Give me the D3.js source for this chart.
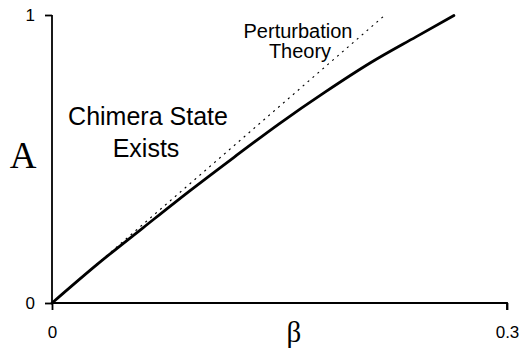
<!DOCTYPE html>
<html>
<head>
<meta charset="utf-8">
<script src="https://cdn.jsdelivr.net/npm/d3@7"></script>
<style>
  body { margin: 0; background: #fff; }
  svg text { font-family: "Liberation Sans", Arial, Helvetica, sans-serif; }
</style>
</head>
<body>
<div id="chart"></div>
<script>
// values
var betaValues = [0, 0.03, 0.06, 0.09, 0.12, 0.15, 0.18, 0.21, 0.24, 0.265];
var amplitudeValues = [0, 0.135, 0.261, 0.386, 0.506, 0.623, 0.732, 0.834, 0.924, 0.998];
// perturbation theory: straight line from the origin
var perturbBeta = [0, 0.2185];
var perturbAmp = [0, 0.995];
var xTicks = [0, 0.3];
var yTicks = [0, 1];

var width = 522, height = 350;
var margin = {top: 15, right: 15, bottom: 47, left: 52};

var svg = d3.select('#chart').append('svg')
  .attr('width', width)
  .attr('height', height);

var x = d3.scaleLinear().domain([0, 0.3]).range([margin.left, width - margin.right]);
var y = d3.scaleLinear().domain([0, 1]).range([height - margin.bottom, margin.top]);

// axes
var xAxis = d3.axisBottom(x).tickValues(xTicks).tickSize(7).tickPadding(16)
  .tickFormat(function(d){ return d === 0 ? '0' : String(d); });
var yAxis = d3.axisLeft(y).tickValues(yTicks).tickSize(7).tickPadding(10)
  .tickFormat(d3.format('d'));

var gx = svg.append('g')
  .attr('transform', 'translate(0,' + y(0) + ')')
  .call(xAxis);
var gy = svg.append('g')
  .attr('transform', 'translate(' + x(0) + ',0)')
  .call(yAxis);

[gx, gy].forEach(function(g){
  g.attr('font-size', null).attr('font-family', null);
  g.selectAll('.domain').attr('stroke', '#000').attr('stroke-width', 1.8);
  g.selectAll('.tick line').attr('stroke', '#000').attr('stroke-width', 1.8);
  g.selectAll('.tick text').attr('fill', '#000').style('font-size', '17px');
});
gx.select('.domain').attr('d', 'M' + x(0) + ',0H' + x(0.3) + 'V7');
gy.select('.domain').attr('d', 'M0,' + y(0) + 'V' + y(1));

// curves
var line = d3.line()
  .x(function(d){ return x(d[0]); })
  .y(function(d){ return y(d[1]); })
  .curve(d3.curveMonotoneX);

svg.append('path')
  .datum(d3.zip(perturbBeta, perturbAmp))
  .attr('fill', 'none')
  .attr('stroke', '#000')
  .attr('stroke-width', 1.2)
  .attr('stroke-dasharray', '2,4.5')
  .attr('d', line);

svg.append('path')
  .datum(d3.zip(betaValues, amplitudeValues))
  .attr('fill', 'none')
  .attr('stroke', '#000')
  .attr('stroke-width', 2.8)
  .attr('stroke-linecap', 'round')
  .attr('d', line);

// axis titles (serif)
svg.append('text')
  .attr('x', 23).attr('y', 168)
  .attr('text-anchor', 'middle')
  .style('font-family', '"Liberation Serif", "Times New Roman", serif')
  .style('font-size', '37px')
  .text('A');

svg.append('text')
  .attr('x', 294).attr('y', 342)
  .attr('text-anchor', 'middle')
  .style('font-family', '"Liberation Serif", "Times New Roman", serif')
  .style('font-size', '29px')
  .text('β');

// annotations
var region = svg.append('text')
  .attr('text-anchor', 'middle')
  .style('font-size', '25px');
region.append('tspan').attr('x', 148).attr('y', 125).text('Chimera State');
region.append('tspan').attr('x', 146).attr('y', 157).text('Exists');

var theory = svg.append('text')
  .attr('text-anchor', 'middle')
  .style('font-size', '20px');
theory.append('tspan').attr('x', 298).attr('y', 38).text('Perturbation');
theory.append('tspan').attr('x', 300).attr('y', 58).text('Theory');
</script>
</body>
</html>
